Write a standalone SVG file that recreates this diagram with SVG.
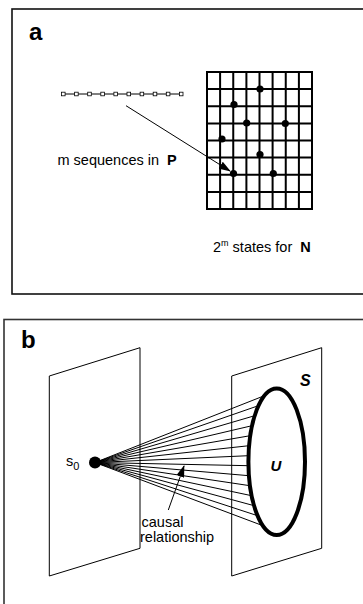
<svg xmlns="http://www.w3.org/2000/svg" width="363" height="604" viewBox="0 0 363 604">
<style>
text{font-family:"Liberation Sans",Arial,sans-serif;fill:#000}
.frame{fill:none;stroke:#111;stroke-width:1.6}
.grid{stroke:#000;stroke-width:2;fill:none}
.thin{stroke:#000;stroke-width:1;fill:none}
.dot{fill:#000}
.lbl{font-size:24px;font-weight:bold}
.t{font-size:14.5px}
.b{font-weight:bold}
</style>
<defs>
<marker id="ah" markerWidth="12" markerHeight="8" refX="11" refY="4" orient="auto" markerUnits="userSpaceOnUse">
<path d="M0,0 L12,4 L0,8 Z" fill="#000"/>
</marker>
</defs>
<rect width="363" height="604" fill="#fff"/>

<g id="panel-a">
<rect class="frame" x="12" y="9" width="400" height="285"/>
<text class="lbl" x="29" y="40">a</text>
</g>

<g id="chain-P">
<line class="thin" x1="63.3" y1="94" x2="181" y2="94"/>
<g fill="#fff" stroke="#000" stroke-width="0.8">
<rect x="61.5" y="92.2" width="3.6" height="3.6"/>
<rect x="74.6" y="92.2" width="3.6" height="3.6"/>
<rect x="87.7" y="92.2" width="3.6" height="3.6"/>
<rect x="100.8" y="92.2" width="3.6" height="3.6"/>
<rect x="113.9" y="92.2" width="3.6" height="3.6"/>
<rect x="127" y="92.2" width="3.6" height="3.6"/>
<rect x="140.1" y="92.2" width="3.6" height="3.6"/>
<rect x="153.2" y="92.2" width="3.6" height="3.6"/>
<rect x="166.3" y="92.2" width="3.6" height="3.6"/>
<rect x="179.4" y="92.2" width="3.6" height="3.6"/>
</g>
<text class="t" x="57.5" y="165">m sequences in <tspan class="b" dx="4">P</tspan></text>
</g>

<g id="grid-N">
<rect class="grid" x="207" y="72" width="105" height="137"/>
<path class="grid" d="M220.1,72V209M233.25,72V209M246.4,72V209M259.5,72V209M272.6,72V209M285.75,72V209M298.9,72V209M207,89.1H312M207,106.25H312M207,123.4H312M207,140.5H312M207,157.6H312M207,174.75H312M207,191.9H312"/>
<circle class="dot" cx="260" cy="89" r="3.6"/>
<circle class="dot" cx="234" cy="104.5" r="3.6"/>
<circle class="dot" cx="246.7" cy="123" r="3.6"/>
<circle class="dot" cx="285.3" cy="123.5" r="3.6"/>
<circle class="dot" cx="222" cy="139" r="3.6"/>
<circle class="dot" cx="260" cy="154.5" r="3.6"/>
<circle class="dot" cx="233.5" cy="173.5" r="3.6"/>
<circle class="dot" cx="273.3" cy="173.5" r="3.6"/>
<text class="t" x="213" y="252">2<tspan font-size="9" dy="-6">m</tspan><tspan dy="6"> states for </tspan><tspan class="b" dx="4">N</tspan></text>
</g>

<g id="panel-b">
<rect fill="none" stroke="#333" stroke-width="1.6" x="4" y="319.5" width="400" height="300"/>
<text class="lbl" x="21" y="348">b</text>
</g>

<g id="plane-left">
<path class="thin" d="M49.3,376 L140,347.7 L140,548.3 L49.3,576 Z"/>
</g>

<g id="plane-S">
<path class="thin" d="M231.7,376 L321.7,347.7 L321.7,548.3 L231.7,576 Z"/>
<text x="300" y="386" font-size="16" font-weight="bold" font-style="italic">S</text>
</g>

<g id="connectors">
<line class="thin" x1="126" y1="105.7" x2="230" y2="171" marker-end="url(#ah)"/>
<g stroke="#000" stroke-width="1">
<line x1="95" y1="462.5" x2="264.4" y2="395.7"/>
<line x1="95" y1="462.5" x2="258.4" y2="405.7"/>
<line x1="95" y1="462.5" x2="254.7" y2="415.7"/>
<line x1="95" y1="462.5" x2="252" y2="425.7"/>
<line x1="95" y1="462.5" x2="250.2" y2="435.7"/>
<line x1="95" y1="462.5" x2="249.1" y2="445.7"/>
<line x1="95" y1="462.5" x2="248.5" y2="455.7"/>
<line x1="95" y1="462.5" x2="248.5" y2="465.7"/>
<line x1="95" y1="462.5" x2="248.9" y2="475.7"/>
<line x1="95" y1="462.5" x2="249.9" y2="485.7"/>
<line x1="95" y1="462.5" x2="251.6" y2="495.7"/>
<line x1="95" y1="462.5" x2="254.1" y2="505.7"/>
<line x1="95" y1="462.5" x2="257.6" y2="515.7"/>
<line x1="95" y1="462.5" x2="262.9" y2="525.7"/>
</g>
<line class="thin" x1="168.3" y1="510" x2="184" y2="466" marker-end="url(#ah)"/>
</g>

<g id="node-s0">
<circle cx="95" cy="462.5" r="6" fill="#000"/>
<text class="t" x="66" y="466">s<tspan font-size="11" dy="4">0</tspan></text>
</g>

<g id="node-U">
<ellipse cx="276.7" cy="461.7" rx="28.3" ry="73.3" fill="none" stroke="#000" stroke-width="4"/>
<text x="276" y="471" font-size="15" font-weight="bold" font-style="italic" text-anchor="middle">U</text>
</g>

<g id="label-causal">
<text class="t" x="141.5" y="527">causal</text>
<text class="t" x="140" y="542">relationship</text>
</g>
</svg>
